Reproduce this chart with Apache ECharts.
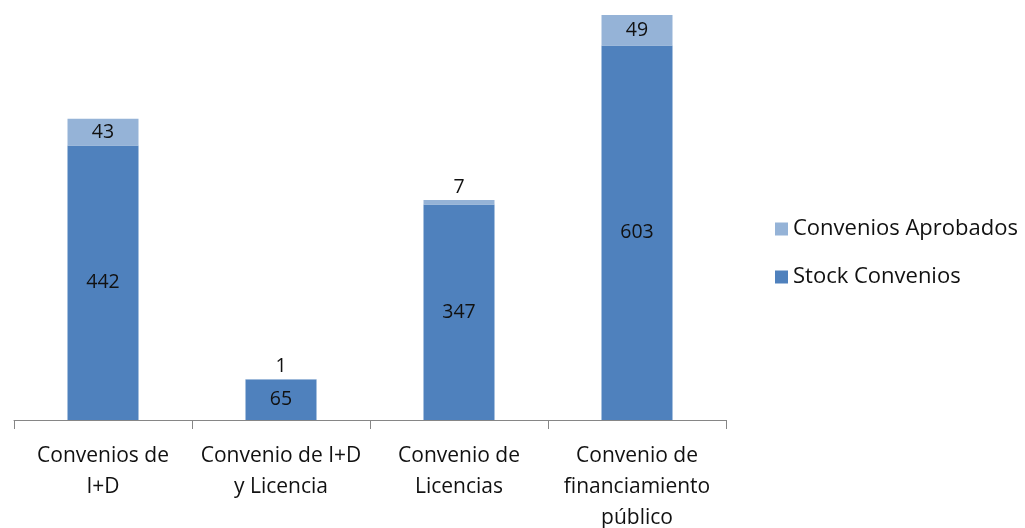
<!DOCTYPE html>
<html>
<head>
<meta charset="utf-8">
<script src="https://cdn.jsdelivr.net/npm/echarts@6/dist/echarts.min.js"></script>
<style>
  html, body { margin: 0; padding: 0; background: #fff; }
  #chart { width: 1025px; height: 528px; }
</style>
</head>
<body>
<div id="chart"></div>
<script>
let categories = ["Convenios de\nI+D", "Convenio de I+D\ny Licencia", "Convenio de\nLicencias", "Convenio de\nfinanciamiento\npúblico"];
let stock = [442, 65, 347, 603];
let aprobados = [43, 1, 7, 49];
// small segments get their label above the bar
let labelAbove = [false, true, true, false];

let fontName = "'Open Sans', 'Noto Sans', sans-serif";

var myChart = echarts.init(document.getElementById("chart"));

let aprobadosData = [];
for (let i = 0; i < aprobados.length; i++) {
    let item = { value: aprobados[i] };
    if (labelAbove[i]) {
        item.label = { position: 'top', distance: 3 };
    }
    aprobadosData.push(item);
}

let option = {
    animation: false,
    textStyle: { fontFamily: fontName },
    grid: { left: 14, right: 299, top: 15, bottom: 108, outerBoundsMode: 'none' },
    legend: {
        orient: 'vertical',
        left: 770,
        top: 213,
        itemWidth: 13,
        itemHeight: 13,
        itemGap: 26,
        icon: 'rect',
        data: ['Convenios Aprobados', 'Stock Convenios'],
        textStyle: { fontSize: 22, color: '#111', fontFamily: fontName }
    },
    xAxis: {
        type: 'category',
        data: categories,
        axisLine: { lineStyle: { color: '#868686', width: 1 } },
        axisTick: { show: true, length: 9, lineStyle: { color: '#868686' } },
        axisLabel: { fontSize: 21, color: '#111', lineHeight: 31, margin: 21, interval: 0 }
    },
    yAxis: {
        type: 'value',
        min: 0,
        max: 652,
        show: false,
        splitLine: { show: false }
    },
    series: [
        {
            name: 'Stock Convenios',
            type: 'bar',
            stack: 'total',
            barWidth: 71,
            itemStyle: { color: '#4F81BD' },
            label: { show: true, position: 'inside', fontSize: 19.5, color: '#111', fontFamily: fontName },
            data: stock
        },
        {
            name: 'Convenios Aprobados',
            type: 'bar',
            stack: 'total',
            barWidth: 71,
            itemStyle: { color: '#95B3D7' },
            label: { show: true, position: 'inside', fontSize: 19.5, color: '#111', fontFamily: fontName },
            data: aprobadosData
        }
    ]
};

myChart.setOption(option);
</script>
</body>
</html>
